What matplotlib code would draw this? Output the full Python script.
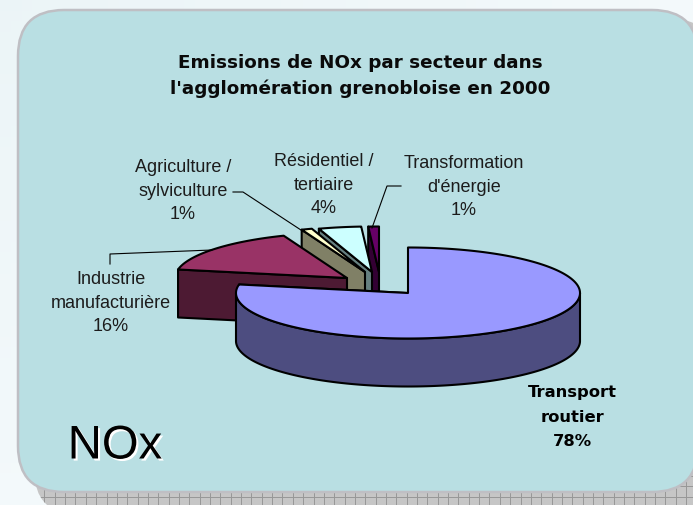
import numpy as np
import matplotlib
matplotlib.use("Agg")
import matplotlib.pyplot as plt
import matplotlib.patheffects as pe
from matplotlib.patches import Polygon, FancyBboxPatch

plt.rcParams['font.family'] = ['Liberation Sans', 'DejaVu Sans']

title = "Emissions de NOx par secteur dans\nl'agglomération grenobloise en 2000"
sectors = ["Transport\nroutier", "Industrie\nmanufacturière", "Agriculture /\nsylviculture",
           "Résidentiel /\ntertiaire", "Transformation\nd'énergie"]
shares = [78, 16, 1, 4, 1]
top_colors = ["#9999ff", "#993366", "#ffffcc", "#ccffff", "#660066"]
side_colors = ["#4d4d80", "#4d1a33", "#808066", "#668080", "#330033"]
# exploded apex of each slice, in pixels
apexes = [(408, 293), (347, 278), (365, 272), (372, 272), (379, 272)]
label_xy = [(572, 417), (111, 303), (183, 191), (324, 185), (464, 187)]

W, H = 693, 505
RX, RY, DEPTH = 172, 45.5, 48
START = 0.0

fig = plt.figure(figsize=(W / 100, H / 100), dpi=100)
ax = fig.add_axes([0, 0, 1, 1])
ax.set_xlim(0, W)
ax.set_ylim(H, 0)
ax.axis("off")

# pale page background, slightly darker towards the upper left
gy, gx = np.mgrid[0:1:48j, 0:1:64j]
t = np.clip(0.5 * gx + 0.5 * gy, 0, 1)[:, :, None]
bg = (1 - t) * np.array([0.925, 0.96, 0.97]) + t * np.array([0.985, 0.995, 1.0])
ax.imshow(bg, extent=(0, W, H, 0), aspect="auto", zorder=0)
ax.set_xlim(0, W)
ax.set_ylim(H, 0)

R = 46
shadow = FancyBboxPatch((34 + R, 18 + R), 680 - 2 * R, 497 - 2 * R,
                        boxstyle=f"round,pad={R},rounding_size={R}",
                        fc="#c6c6c6", ec="none", zorder=1)
ax.add_patch(shadow)
for x in np.arange(3, W + 10, 10.35):
    l, = ax.plot([x, x], [0, H], color="#979797", lw=0.7, zorder=1.1)
    l.set_clip_path(shadow)
for y in np.arange(507, 440, -10.35):
    l, = ax.plot([0, W], [y, y], color="#979797", lw=0.7, zorder=1.1)
    l.set_clip_path(shadow)
ax.add_patch(FancyBboxPatch((18 + R, 10 + R), 680 - 2 * R, 482 - 2 * R,
                            boxstyle=f"round,pad={R},rounding_size={R}",
                            fc="#b9dfe3", ec="#bfbfc4", lw=1.8, zorder=2))

def pt(apex, deg, dz=0):
    a = np.radians(deg)
    return apex[0] + RX * np.sin(a), apex[1] - RY * np.cos(a) + dz

edges = np.cumsum([0] + shares) * 3.6 + START
z = 3.0
order = [4, 3, 2, 1, 0]
for i in order:
    a0, a1 = edges[i], edges[i + 1]
    ap = apexes[i]
    deg = np.arange(a0, a1 + 0.25, 0.5)
    deg[-1] = a1
    arc = np.array([pt(ap, d) for d in deg])
    lw = 1.5
    # radial wall at the left edge of the slice
    tip = arc[-1] if i == 0 else arc[0]
    wall = [tuple(tip), ap, (ap[0], ap[1] + DEPTH), (tip[0], tip[1] + DEPTH)]
    ax.add_patch(Polygon(wall, closed=True, fc=side_colors[i], ec="black", lw=lw, zorder=z, joinstyle="round"))
    z += 0.01
    # outer rim on the part of the arc that faces the viewer
    vis = [d for d in deg if 90 <= (d % 360) <= 270]
    if len(vis) > 1:
        up = np.array([pt(ap, d) for d in vis])
        low = up + [0, DEPTH]
        ax.add_patch(Polygon(np.vstack([up, low[::-1]]), closed=True, fc=side_colors[i], ec="black", lw=lw,
                             zorder=z, joinstyle="round"))
        z += 0.01
    ax.add_patch(Polygon(np.vstack([[ap], arc]), closed=True, fc=top_colors[i], ec="black", lw=lw,
                         zorder=z, joinstyle="round"))
    z += 0.01

# leader lines
lines = [([110, 110, 212], [264, 254, 250]),
         ([233, 243, 304], [192, 192, 232]),
         ([401, 387, 372], [186, 186, 228])]
for xs, ys in lines:
    ax.plot(xs, ys, color="black", lw=0.8, zorder=3.5)

pct = [f"{s}%" for s in shares]
for i, (name, (x, y)) in enumerate(zip(sectors, label_xy)):
    bold = i == 0
    ax.text(x, y, f"{name}\n{pct[i]}", ha="center", va="center",
            fontsize=11.8 if bold else 13,
            family=['DejaVu Sans'] if bold else ['Liberation Sans'],
            fontweight="bold" if bold else "normal", color="black" if bold else "#1c1c1c",
            linespacing=1.75 if bold else 1.5, zorder=6)

ax.text(360, 76, title, ha="center", va="center", fontsize=13.2, family=['DejaVu Sans'],
        fontweight="bold", color="#0a0a0a", linespacing=1.55, zorder=6)
ax.text(115, 446.5, "NOx", ha="center", va="center", fontsize=34, color="black", zorder=6.1,
        path_effects=[pe.withSimplePatchShadow(offset=(1.5, -1.5), shadow_rgbFace="white", alpha=1.0)])

fig.savefig("out.png", dpi=100)
